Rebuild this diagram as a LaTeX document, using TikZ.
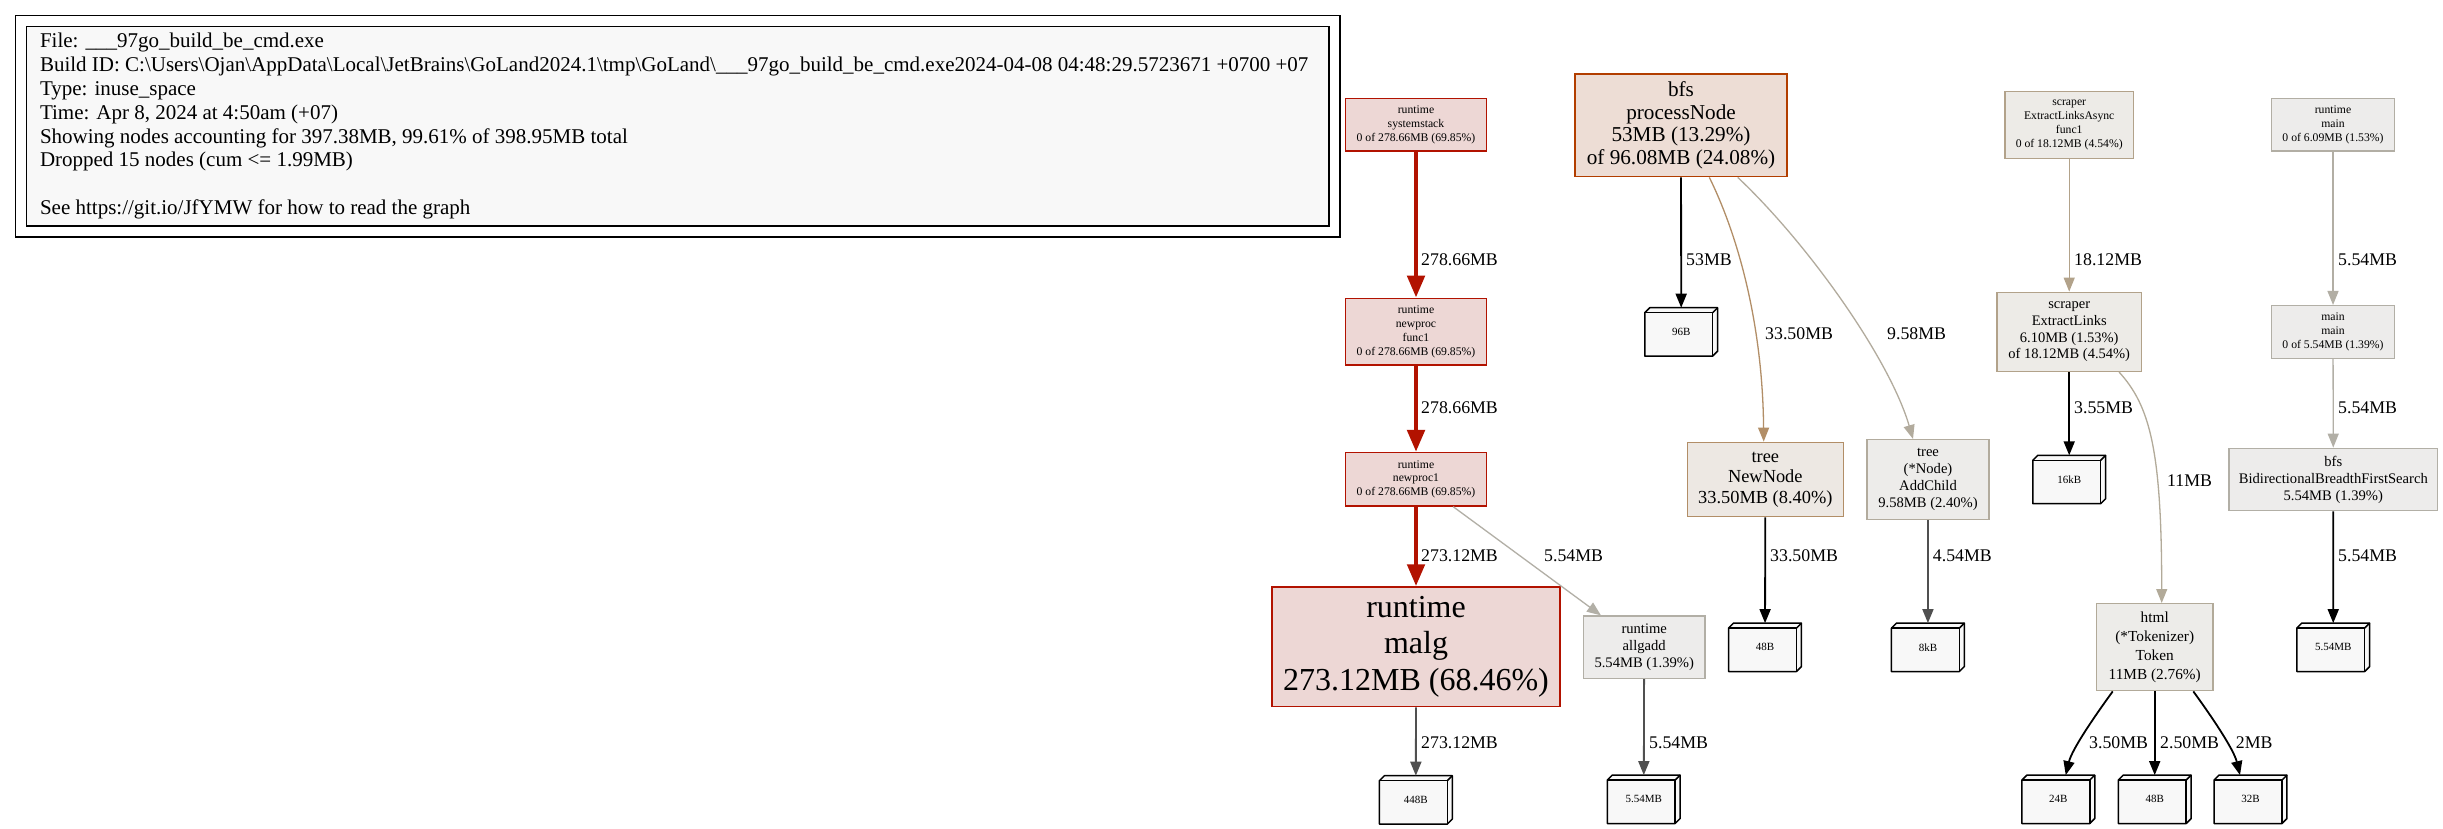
\documentclass[tikz,border=0pt]{standalone}
\usepackage{fontspec}
\setmainfont{Liberation Serif}
\usetikzlibrary{arrows.meta, fit}

% 颜色 (pprof 配色)
\definecolor{legfill}{HTML}{F8F8F8}
\definecolor{hotfill}{HTML}{EDD7D5}
\definecolor{hotline}{HTML}{B21200}
\definecolor{pnfill}{HTML}{EDDDD5}
\definecolor{pnline}{HTML}{B23E00}
\definecolor{nnfill}{HTML}{EDE8E3}
\definecolor{nnline}{HTML}{B28E67}
\definecolor{acfill}{HTML}{EDECEA}
\definecolor{acline}{HTML}{B2AB9D}
\definecolor{grayfill}{HTML}{EDECEB}
\definecolor{grayline}{HTML}{B2AFA6}
\definecolor{rmline}{HTML}{B2AEA4}
\definecolor{elfill}{HTML}{EDEBE7}
\definecolor{elline}{HTML}{B2A28A}
\definecolor{htfill}{HTML}{EDECE9}
\definecolor{htline}{HTML}{B2AA99}
\definecolor{tagline}{HTML}{505050}

\newcommand{\fsz}[2]{\fontsize{#1}{#2}\selectfont}

\begin{document}
\begin{tikzpicture}[x=1pt, y=-1pt,
  fn/.style={draw, line width=1.4pt, align=center, inner sep=0pt},
  smallfn/.style={font=\fsz{11.7}{13.8}},
  midfn/.style={font=\fsz{14.6}{16.8}},
  leaf/.style={minimum width=72.5pt, minimum height=48pt, inner sep=0pt},
  leaftxt/.style={inner sep=0pt, font=\fsz{11}{13}},
  elbl/.style={anchor=west, inner sep=0pt, font=\fsz{17.8}{20}},
  arr/.style={-{Triangle[length=14pt, width=11pt]}},
  hot/.style={line width=4.8pt, hotline, -{Triangle[length=22pt, width=17pt]}},
  soft/.style={line width=1.3pt, arr},
  tagedge/.style={line width=1.8pt, arr}]

  \fill[white] (0,0) rectangle (2443,829);
  \useasboundingbox (0,0) rectangle (2443,829);

  % 图例
  \node[draw, line width=1.4pt, fill=legfill, minimum width=1302.5pt, minimum height=199.5pt] (legbox) at (677.75,126.25) {};
  \node[anchor=west, align=left, inner sep=0pt, font=\fsz{21}{23.8}] (legtxt) at ([xshift=14pt]legbox.west)
    {File: \_\_\_97go\_build\_be\_cmd.exe\\
     Build ID: C:\textbackslash Users\textbackslash Ojan\textbackslash AppData\textbackslash Local\textbackslash JetBrains\textbackslash GoLand2024.1\textbackslash tmp\textbackslash GoLand\textbackslash\_\_\_97go\_build\_be\_cmd.exe2024-04-08 04:48:29.5723671 +0700 +07\\
     Type: inuse\_space\\
     Time: Apr 8, 2024 at 4:50am (+07)\\
     Showing nodes accounting for 397.38MB, 99.61\% of 398.95MB total\\
     Dropped 15 nodes (cum <= 1.99MB)\\[23.8pt]
     See https://git.io/JfYMW for how to read the graph};
  \node[draw, line width=1.4pt, fit=(legbox), inner sep=10.2pt] (legframe) {};

  % runtime 调用链
  \node[fn, smallfn, fill=hotfill, draw=hotline, minimum width=140.6pt, minimum height=52.7pt] (ss) at (1416,124.7)
    {runtime\\systemstack\\0 of 278.66MB (69.85\%)};
  \node[fn, smallfn, fill=hotfill, draw=hotline, minimum width=140.6pt, minimum height=66.7pt] (nf) at (1416,331.7)
    {runtime\\newproc\\func1\\0 of 278.66MB (69.85\%)};
  \node[fn, smallfn, fill=hotfill, draw=hotline, minimum width=140.6pt, minimum height=53.3pt] (np1) at (1416,479.3)
    {runtime\\newproc1\\0 of 278.66MB (69.85\%)};
  \node[fn, font=\fsz{32}{36.7}, fill=hotfill, draw=hotline, minimum width=288pt, minimum height=119.7pt] (mg) at (1416,646.8)
    {runtime\\malg\\273.12MB (68.46\%)};
  \node[fn, midfn, fill=grayfill, draw=grayline, minimum width=121.7pt, minimum height=62.3pt] (ag) at (1644.2,647.2)
    {runtime\\allgadd\\5.54MB (1.39\%)};

  % bfs / tree
  \node[fn, font=\fsz{21.2}{22.8}, fill=pnfill, draw=pnline, minimum width=212pt, minimum height=102.7pt] (pn) at (1681,125.3)
    {bfs\\processNode\\53MB (13.29\%)\\of 96.08MB (24.08\%)};
  \node[fn, font=\fsz{18.4}{20.7}, fill=nnfill, draw=nnline, minimum width=156pt, minimum height=74.4pt] (nn) at (1765.3,479.5)
    {tree\\NewNode\\33.50MB (8.40\%)};
  \node[fn, midfn, fill=acfill, draw=acline, minimum width=122pt, minimum height=79.6pt] (ac) at (1928,479.5)
    {tree\\(*Node)\\AddChild\\9.58MB (2.40\%)};

  % scraper / html
  \node[fn, smallfn, fill=elfill, draw=elline, minimum width=128.3pt, minimum height=66.7pt] (ela) at (2069.2,125)
    {scraper\\ExtractLinksAsync\\func1\\0 of 18.12MB (4.54\%)};
  \node[fn, font=\fsz{14.5}{16.8}, fill=elfill, draw=elline, minimum width=144.3pt, minimum height=79pt] (el) at (2069.2,331.8)
    {scraper\\ExtractLinks\\6.10MB (1.53\%)\\of 18.12MB (4.54\%)};
  \node[fn, font=\fsz{15.3}{19}, fill=htfill, draw=htline, minimum width=116.7pt, minimum height=87pt] (ht) at (2154.7,647.2)
    {html\\(*Tokenizer)\\Token\\11MB (2.76\%)};

  % main
  \node[fn, smallfn, fill=grayfill, draw=rmline, minimum width=122.7pt, minimum height=52.7pt] (rm) at (2333,124.7)
    {runtime\\main\\0 of 6.09MB (1.53\%)};
  \node[fn, smallfn, fill=grayfill, draw=grayline, minimum width=122.7pt, minimum height=52.7pt] (mm) at (2333,332)
    {main\\main\\0 of 5.54MB (1.39\%)};
  \node[fn, font=\fsz{14.6}{17}, fill=grayfill, draw=grayline, minimum width=208.7pt, minimum height=62.4pt] (bb) at (2333.3,479.5)
    {bfs\\BidirectionalBreadthFirstSearch\\5.54MB (1.39\%)};

  % 叶子节点 (box3d)
  \foreach \n/\x/\y/\lab in {l96/1681.2/331.9/96B, l448/1415.8/799.9/448B, l554a/1643.7/799.3/5.54MB,
      l48a/1765/647.3/48B, l8k/1927.9/647.3/8kB, l16k/2069.2/479.5/16kB, l554b/2333.2/647.3/5.54MB,
      l24/2058.3/799.3/24B, l48b/2154.7/799.3/48B, l32/2250.5/799.3/32B} {
    \node[leaf] (\n) at (\x,\y) {};
    \filldraw[line width=1.5pt, fill=legfill, line join=round]
      ([yshift=-5pt]\n.north west) -- ([xshift=5pt]\n.north west) -- (\n.north east)
      -- ([yshift=5pt]\n.south east) -- ([xshift=-5pt]\n.south east) -- (\n.south west) -- cycle;
    \draw[line width=1.5pt] ([yshift=-5pt]\n.north west) -| ([xshift=-5pt]\n.south east);
    \draw[line width=1.5pt] ([shift={(-5pt,-5pt)}]\n.north east) -- (\n.north east);
    \node[leaftxt] (\n-t) at (\n) {\lab};
  }

  % 边
  \draw[hot] (ss) -- (nf);
  \draw[hot] (nf) -- (np1);
  \draw[hot] (np1) -- (mg);
  \draw[soft, grayline] (np1) -- (ag);
  \draw[tagedge, tagline] (mg) -- (l448);
  \draw[tagedge, tagline] (ag) -- (l554a);

  \draw[tagedge] (pn) -- (l96);
  \draw[soft, nnline] ([xshift=28.3pt]pn.south) .. controls +(31,63) and +(-1,-112) .. ([xshift=-1.6pt]nn.north);
  \draw[soft, acline] ([xshift=56.7pt]pn.south) .. controls +(72,68) and +(-23,-79) .. ([xshift=-15pt]ac.north);
  \draw[tagedge] (nn) -- (l48a);
  \draw[tagedge, tagline] (ac) -- (l8k);

  \draw[soft, elline] (ela) -- (el);
  \draw[tagedge] (el) -- (l16k);
  \draw[soft, htline] ([xshift=49.8pt]el.south) .. controls +(31,34) and +(0,-153) .. ([xshift=7pt]ht.north);
  \draw[tagedge] ([xshift=-42pt]ht.south) .. controls +(-17.7,24.3) and +(6.3,-26) .. ([xshift=7.4pt]l24.north);
  \draw[tagedge] (ht) -- (l48b);
  \draw[tagedge] ([xshift=38.6pt]ht.south) .. controls +(17.7,24.3) and +(-6.3,-26) .. ([xshift=-10.5pt]l32.north);

  \draw[soft, rmline] (rm) -- (mm);
  \draw[soft, grayline] (mm) -- (bb);
  \draw[tagedge] (bb) -- (l554b);

  % 边标签
  \node[elbl] (e1) at (1421,259.3) {278.66MB};
  \node[elbl] (e2) at (1421,407.3) {278.66MB};
  \node[elbl] (e3) at (1421,555.7) {273.12MB};
  \node[elbl] (e4) at (1544,555.7) {5.54MB};
  \node[elbl] (e5) at (1421,742.3) {273.12MB};
  \node[elbl] (e6) at (1649,742.3) {5.54MB};
  \node[elbl] (e7) at (1686,259.3) {53MB};
  \node[elbl] (e8) at (1765,333.3) {33.50MB};
  \node[elbl] (e9) at (1887,333.3) {9.58MB};
  \node[elbl] (e10) at (1770,555.7) {33.50MB};
  \node[elbl] (e11) at (1932.7,555.7) {4.54MB};
  \node[elbl] (e12) at (2074,259.3) {18.12MB};
  \node[elbl] (e13) at (2074,407.3) {3.55MB};
  \node[elbl] (e14) at (2167,481) {11MB};
  \node[elbl] (e15) at (2338,259.3) {5.54MB};
  \node[elbl] (e16) at (2338,407.3) {5.54MB};
  \node[elbl] (e17) at (2338,555.7) {5.54MB};
  \node[elbl] (e18) at (2089,742.3) {3.50MB};
  \node[elbl] (e19) at (2160,742.3) {2.50MB};
  \node[elbl] (e20) at (2235.7,742.3) {2MB};
\end{tikzpicture}
\end{document}
